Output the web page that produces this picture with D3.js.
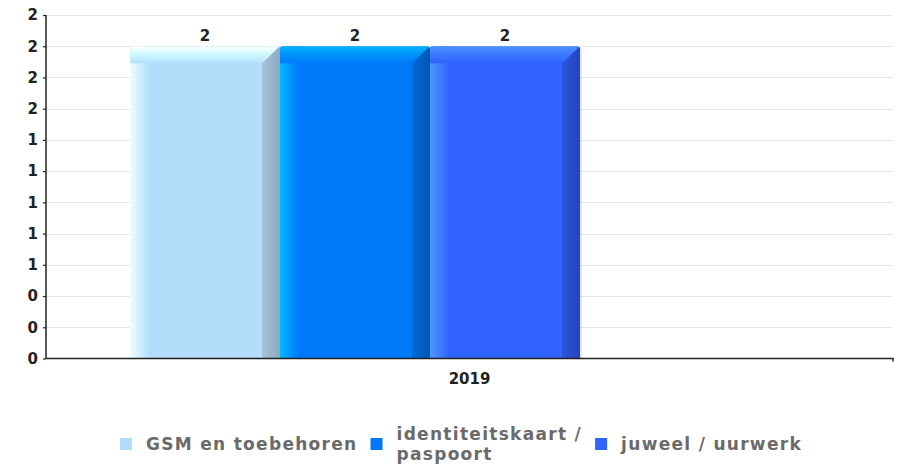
<!DOCTYPE html>
<html>
<head>
<meta charset="utf-8">
<script src="https://cdn.jsdelivr.net/npm/d3@7"></script>
<style>
  html, body { margin: 0; padding: 0; background: #fff; }
  svg { display: block; font-family: "DejaVu Sans", sans-serif; }
</style>
</head>
<body>
<svg id="chart" width="903" height="468"></svg>
<script>
// ---- data ----
const categories = ["2019"];
const seriesNames = ["GSM en toebehoren", "identiteitskaart / paspoort", "juweel / uurwerk"];
const seriesValues = [[2], [2], [2]];          // one value per category, per series
const yTickValues = [0, 0.2, 0.4, 0.6, 0.8, 1.0, 1.2, 1.4, 1.6, 1.8, 2.0, 2.2];

// ---- colours (base, light edge, top light start, dark edge) ----
const palette = [
  { base: "#b3ddfb", light: "#effeff", top: "#ffffff", topMid: "#d2fbff", dark: "#a7c3d8", darkEnd: "#8ea9bf" },
  { base: "#0078fa", light: "#00b8ff", top: "#00b4ff", topMid: "#0096fd", dark: "#006ad8", darkEnd: "#0058b0" },
  { base: "#3063ff", light: "#4e96ff", top: "#4c92ff", topMid: "#3d7aff", dark: "#2c56da", darkEnd: "#2444bc" }
];

// ---- layout ----
const plot = { left: 46, right: 893, top: 15, bottom: 358.5 };
const groupStart = 84 / 847, groupEnd = 534 / 847;   // fraction of the category band used by the bars
const bevel = { left: 20, top: 17, right: 18 };

const svg = d3.select("#chart");
const defs = svg.append("defs");

const x = d3.scaleBand().domain(categories).range([plot.left, plot.right]).padding(0);
const y = d3.scaleLinear().domain([0, 2.2]).range([plot.bottom, plot.top]);
const xs = d3.scaleBand().domain(d3.range(seriesNames.length))
  .range([x.bandwidth() * groupStart, x.bandwidth() * groupEnd]).padding(0);

const fmt = d3.format(".0f");

// gridlines
svg.append("g").selectAll("line").data(yTickValues.slice(1)).join("line")
  .attr("x1", plot.left).attr("x2", plot.right)
  .attr("y1", d => Math.round(y(d)) + 0.5).attr("y2", d => Math.round(y(d)) + 0.5)
  .attr("stroke", "#e6e6e6").attr("stroke-width", 1);

// gradients
palette.forEach((p, i) => {
  const lg = defs.append("linearGradient").attr("id", "left" + i).attr("x1", 0).attr("x2", 1).attr("y1", 0).attr("y2", 0);
  lg.append("stop").attr("offset", 0).attr("stop-color", p.light);
  lg.append("stop").attr("offset", 1).attr("stop-color", p.base);
  const tg = defs.append("linearGradient").attr("id", "top" + i).attr("x1", 0).attr("x2", 0).attr("y1", 0).attr("y2", 1);
  tg.append("stop").attr("offset", 0).attr("stop-color", p.top);
  tg.append("stop").attr("offset", 0.45).attr("stop-color", p.topMid);
  tg.append("stop").attr("offset", 1).attr("stop-color", p.base);
  const rg = defs.append("linearGradient").attr("id", "right" + i).attr("x1", 0).attr("x2", 1).attr("y1", 0).attr("y2", 0);
  rg.append("stop").attr("offset", 0).attr("stop-color", p.dark);
  rg.append("stop").attr("offset", 1).attr("stop-color", p.darkEnd);
});

// bars
const barData = [];
categories.forEach((c, ci) => {
  seriesNames.forEach((s, si) => barData.push({ cat: c, si, value: seriesValues[si][ci] }));
});

const bars = svg.append("g").selectAll("g").data(barData).join("g")
  .attr("transform", d => `translate(${x(d.cat) + xs(d.si)},0)`);

bars.each(function (d, i) {
  const g = d3.select(this);
  const w = xs.bandwidth();
  const t = y(d.value), b = y(0), h = b - t;
  const p = palette[d.si];
  // rounded outline for the bar
  defs.append("clipPath").attr("id", "clip" + i)
    .append("rect").attr("x", 0).attr("y", t).attr("width", w).attr("height", h + 4).attr("rx", 3);
  // soft shadow on the right
  g.append("rect").attr("x", w).attr("y", t + 2).attr("width", 2).attr("height", h - 2)
    .attr("fill", "#000").attr("opacity", 0.1);
  const body = g.append("g").attr("clip-path", `url(#clip${i})`);
  // front face
  body.append("rect").attr("x", 0).attr("y", t).attr("width", w).attr("height", h).attr("fill", p.base);
  // left bevel
  body.append("rect").attr("x", 0).attr("y", t).attr("width", bevel.left).attr("height", h)
    .attr("fill", `url(#left${d.si})`);
  // top bevel
  body.append("path")
    .attr("d", `M0,${t}H${w}L${w - bevel.right},${t + bevel.top}H${bevel.left}L0,${t + bevel.top}Z`)
    .attr("fill", `url(#top${d.si})`);
  // right bevel
  body.append("path")
    .attr("d", `M${w - bevel.right},${t + bevel.top}L${w},${t}V${b}H${w - bevel.right}Z`)
    .attr("fill", `url(#right${d.si})`);
  // value label
  g.append("text").attr("x", w / 2).attr("y", t - 5)
    .attr("text-anchor", "middle").attr("font-size", 15).attr("font-weight", "bold").attr("fill", "#222")
    .text(fmt(d.value));
});

// y axis
const yAxis = svg.append("g").attr("transform", `translate(${plot.left},0)`)
  .call(d3.axisLeft(y).tickValues(yTickValues).tickFormat(fmt).tickSize(3).tickPadding(5));
yAxis.select(".domain").attr("stroke", "#222").attr("stroke-width", 1.5).attr("d", `M0,${plot.top}V${plot.bottom}`);
yAxis.selectAll(".tick line").attr("stroke", "#222").attr("stroke-width", 1.2);
yAxis.selectAll(".tick text").attr("font-size", 15).attr("font-weight", "bold").attr("fill", "#222")
  .attr("font-family", "DejaVu Sans, sans-serif");

// x axis
const xAxis = svg.append("g").attr("transform", `translate(0,${plot.bottom})`)
  .call(d3.axisBottom(x).tickSize(0).tickPadding(15));
xAxis.select(".domain").attr("stroke", "#222").attr("stroke-width", 1.5)
  .attr("d", `M${plot.left},0H${plot.right}V3`);
xAxis.selectAll(".tick text").attr("font-size", 15).attr("font-weight", "bold").attr("fill", "#222")
  .attr("font-family", "DejaVu Sans, sans-serif");

// legend
function wrap(label, maxChars) {
  const words = label.split(" ");
  const lines = [];
  let cur = "";
  words.forEach(wd => {
    const next = cur ? cur + " " + wd : wd;
    if (next.length > maxChars && cur) { lines.push(cur); cur = wd; } else cur = next;
  });
  if (cur) lines.push(cur);
  return lines;
}

const legend = svg.append("g");
const legendCenterX = 461, legendY = 444, lineGap = 20;
let cursor = 0;
seriesNames.forEach((name, i) => {
  const g = legend.append("g");
  g.append("rect").attr("x", 0).attr("y", -6).attr("width", 12).attr("height", 12).attr("fill", palette[i].base);
  const lines = wrap(name, 20);
  const txt = g.append("text").attr("font-size", 17).attr("font-weight", "bold").attr("fill", "#6a6a6a")
    .attr("letter-spacing", 1.3);
  const y0 = -(lines.length - 1) * lineGap / 2 + 6;
  lines.forEach((ln, k) => txt.append("tspan").attr("x", 26).attr("y", y0 + k * lineGap).text(ln));
  const tw = d3.max(txt.selectAll("tspan").nodes(), n => n.getComputedTextLength());
  g.attr("transform", `translate(${cursor},${legendY})`);
  cursor += 26 + tw + 13;
});
legend.attr("transform", `translate(${legendCenterX - (cursor - 13) / 2},0)`);
</script>
</body>
</html>
